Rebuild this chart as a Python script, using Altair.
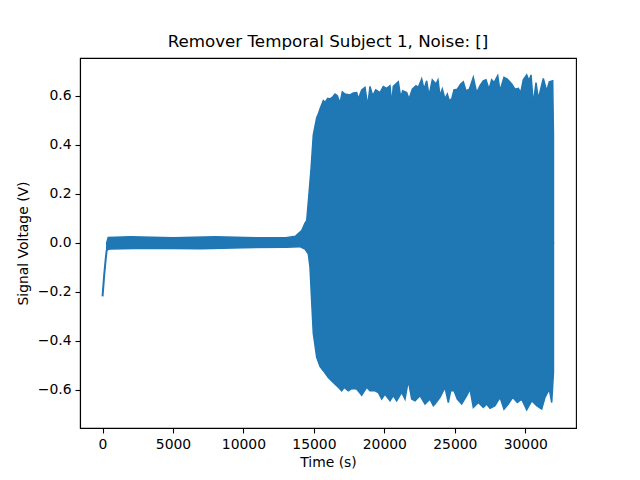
import altair as alt
import pandas as pd

# initial settling of the signal (s, V)
start_t = [0, 120, 224, 295, 400]
start_v = [-0.219, -0.13, -0.067, -0.03, -0.01]

# upper envelope of the signal
upper_t = [300, 400, 2000, 5000, 8000, 11000, 13000, 13700, 14133, 14368, 14488,
           14652, 14794, 14957, 15198, 15312, 15432, 15667, 15787, 15979, 16142,
           16305, 16497, 16660, 16852, 17015, 17207, 17561, 17796, 18037, 18150,
           18392, 18626, 18817, 18981, 19172, 19385, 19690, 19925, 20166, 20400,
           20521, 20634, 20989, 21160, 21301, 21585, 21748, 21983, 22245, 22409,
           22650, 22813, 23004, 23168, 23402, 23665, 23806, 23948, 24112, 24303,
           24466, 24609, 24779, 24942, 25176, 25418, 25602, 25794, 26028, 26312,
           26553, 26787, 27021, 27213, 27426, 27617, 27781, 28043, 28206, 28490,
           28725, 29037, 29271, 29505, 29676, 29860, 30101, 30265, 30407, 30570,
           30761, 30925, 31280, 31521, 31705, 31946, 32000]
upper_v = [0.0, 0.022, 0.025, 0.02, 0.024, 0.02, 0.02, 0.027, 0.05, 0.08, 0.09,
           0.2, 0.30, 0.44, 0.51, 0.525, 0.546, 0.58, 0.573, 0.589, 0.587,
           0.593, 0.607, 0.6, 0.57, 0.616, 0.607, 0.603, 0.611, 0.613, 0.587,
           0.624, 0.634, 0.559, 0.638, 0.6, 0.624, 0.613, 0.638, 0.63, 0.641,
           0.566, 0.638, 0.657, 0.593, 0.62, 0.613, 0.587, 0.627, 0.641, 0.634,
           0.668, 0.627, 0.661, 0.6, 0.665, 0.648, 0.665, 0.6, 0.627, 0.587,
           0.607, 0.58, 0.587, 0.624, 0.627, 0.648, 0.657, 0.62, 0.627, 0.675,
           0.613, 0.641, 0.661, 0.665, 0.627, 0.665, 0.654, 0.682, 0.62, 0.675,
           0.668, 0.648, 0.627, 0.63, 0.613, 0.665, 0.685, 0.661, 0.685, 0.566,
           0.654, 0.587, 0.671, 0.62, 0.657, 0.661, 0.44]

# lower envelope of the signal
lower_t = [300, 530, 3000, 7000, 10000, 13000, 14000, 14368, 14601, 14722,
           14842, 14957, 15198, 15432, 15667, 16021, 16376, 16731, 16972, 17157,
           17441, 17682, 18037, 18392, 18746, 18981, 19336, 19570, 19811, 20045,
           20400, 20634, 20875, 21230, 21465, 21699, 21940, 22174, 22529, 22884,
           23239, 23473, 23594, 23948, 24303, 24538, 24708, 24942, 25176, 25488,
           25843, 26078, 26312, 26667, 27021, 27263, 27497, 27852, 28206, 28490,
           28796, 29108, 29434, 29747, 30101, 30456, 30811, 31166, 31400, 31705,
           31876, 32000]
lower_v = [-0.03, -0.025, -0.022, -0.024, -0.02, -0.018, -0.016, -0.026, -0.045, -0.10,
           -0.24, -0.37, -0.468, -0.505, -0.522, -0.55, -0.57, -0.59, -0.604, -0.59,
           -0.604, -0.595, -0.597, -0.622, -0.59, -0.604, -0.604, -0.611, -0.638, -0.618,
           -0.645, -0.624, -0.645, -0.611, -0.638, -0.563, -0.638, -0.645, -0.624, -0.658,
           -0.638, -0.665, -0.658, -0.631, -0.59, -0.652, -0.604, -0.604, -0.638, -0.658,
           -0.624, -0.597, -0.672, -0.652, -0.672, -0.658, -0.676, -0.665, -0.631, -0.679,
           -0.658, -0.631, -0.652, -0.638, -0.682, -0.645, -0.665, -0.679, -0.631, -0.597,
           -0.652, -0.53]

blue = "#1f77b4"
font = "DejaVu Sans"

start = pd.DataFrame({"t": start_t, "v": start_v})
upper = pd.DataFrame({"t": upper_t, "v": upper_v, "base": 0.0})
lower = pd.DataFrame({"t": lower_t, "v": lower_v, "base": 0.0})

x = alt.X("t:Q", title="Time (s)",
          scale=alt.Scale(domain=[-1600, 33600], nice=False, zero=False),
          axis=alt.Axis(values=[0, 5000, 10000, 15000, 20000, 25000, 30000], format="d"))
y = alt.Y("v:Q", title="Signal Voltage (V)",
          scale=alt.Scale(domain=[-0.756, 0.754], nice=False, zero=False),
          axis=alt.Axis(values=[-0.6, -0.4, -0.2, 0.0, 0.2, 0.4, 0.6], format=".1f"))

line = alt.Chart(start).mark_line(color=blue, strokeWidth=2).encode(x=x, y=y)
top = alt.Chart(upper).mark_area(color=blue, stroke=blue, strokeWidth=1.5).encode(
    x=x, y=y, y2="base:Q")
bottom = alt.Chart(lower).mark_area(color=blue, stroke=blue, strokeWidth=1.5).encode(
    x=x, y=y, y2="base:Q")

chart = (top + bottom + line).properties(
    width=496, height=370,
    title="Remover Temporal Subject 1, Noise: []",
    autosize=alt.AutoSizeParams(type="none"),
    padding={"left": 72, "top": 50, "right": 56, "bottom": 45},
).configure_view(
    stroke="black", strokeWidth=1.1
).configure_axis(
    grid=False, domainColor="black", domainWidth=1.1, tickColor="black", tickWidth=1.1,
    tickSize=5, labelPadding=4, labelFont=font, labelFontSize=13.9, labelColor="black",
    titleFont=font, titleFontSize=13.9, titleFontWeight="normal", titleColor="black",
).configure_axisX(titlePadding=5).configure_axisY(titlePadding=7).configure_title(
    font=font, fontSize=16.7, fontWeight="normal", color="black", anchor="middle", offset=7
)

chart.save("out.html", embed_options={"renderer": "svg", "actions": False})
